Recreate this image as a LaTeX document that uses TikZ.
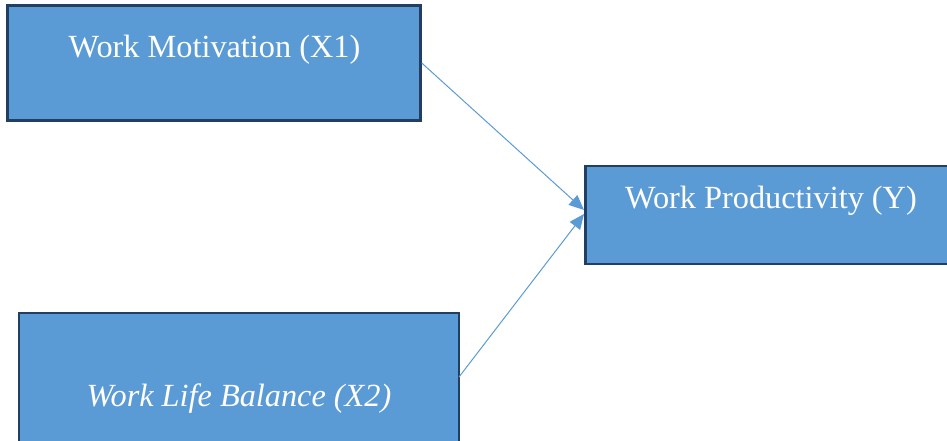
\documentclass[tikz,border=0pt]{standalone}
\usepackage{fontspec}
\setmainfont{Liberation Serif}
\usetikzlibrary{arrows.meta}
\definecolor{boxfill}{HTML}{5B9BD5}
\definecolor{boxline}{HTML}{223F61}
\definecolor{arrowcol}{HTML}{5B9BD5}
\tikzset{
  varbox/.style={draw=boxline, line width=2.5pt, fill=boxfill, rectangle, inner sep=0pt},
  vartext/.style={anchor=base, text=white, font=\fontsize{32.3}{36}\selectfont, inner sep=0pt},
  link/.style={draw=arrowcol, line width=1pt, -{Triangle[length=15pt,width=13pt]}}
}
\begin{document}
\begin{tikzpicture}[x=1pt,y=-1pt]
\useasboundingbox (0,0) rectangle (947,441);
\clip (0,0) rectangle (947,441);
\node[varbox, minimum width=413pt, minimum height=115pt] (b1) at (214,63) {};
\node[varbox, minimum width=370pt, minimum height=98pt] (b2) at (770.5,215) {};
\node[varbox, minimum width=440pt, minimum height=160pt] (b3) at (239,393) {};
\node[vartext] (t1) at (214.5,58) {Work Motivation (X1)};
\node[vartext] (t2) at (771,208) {Work Productivity (Y)};
\node[vartext] (t3) at (239,406) {\itshape Work Life Balance (X2)};
\coordinate (e1) at (584,210);
\coordinate (e2) at (584,214);
\coordinate (s2) at (459,377);
\draw[link] (b1.east) -- (e1);
\draw[link] (s2) -- (e2);
\end{tikzpicture}
\end{document}
